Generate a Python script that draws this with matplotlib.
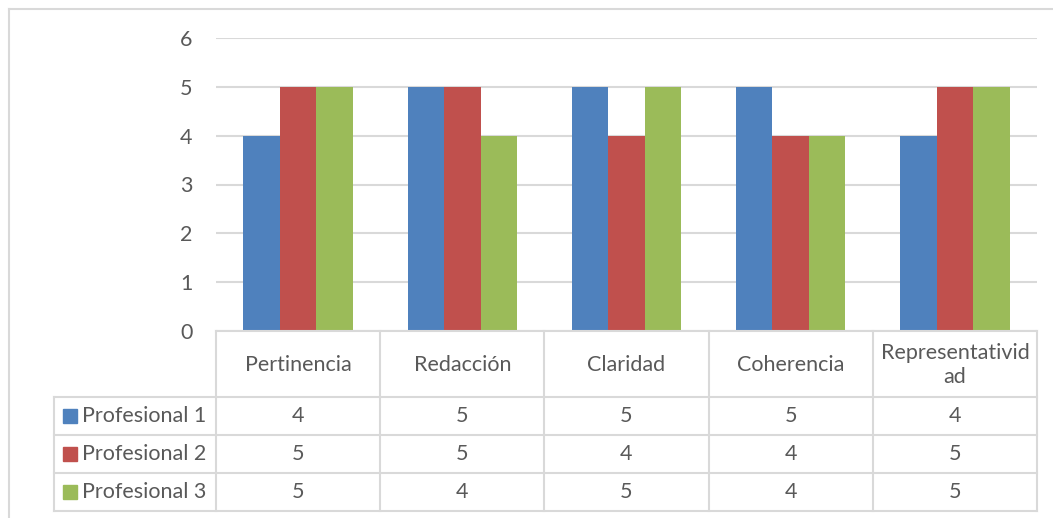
import numpy as np
import matplotlib
matplotlib.use("Agg")
import matplotlib.pyplot as plt
from matplotlib.lines import Line2D
from matplotlib.patches import Rectangle

plt.rcParams['font.family'] = ['Lato', 'DejaVu Sans']

categories = ["Pertinencia", "Redacción", "Claridad", "Coherencia", "Representativid\nad"]
series_names = ["Profesional 1", "Profesional 2", "Profesional 3"]
prof1 = [4, 5, 5, 5, 4]
prof2 = [5, 5, 4, 4, 5]
prof3 = [5, 4, 5, 4, 5]

COLORS = ["#4F81BD", "#C0504D", "#9BBB59"]
GRID = "#D9D9D9"
TEXT = "#595959"
FS = 15.5

W, H = 1053, 518


def fx(x):
    return x / W


def fy(y):
    return 1 - y / H


fig = plt.figure(figsize=(W / 100, H / 100), dpi=100)

# plot area in pixel coords of reference
left, right, top, bottom = 216, 1037, 38, 331
ax = fig.add_axes([fx(left), fy(bottom), (right - left) / W, (bottom - top) / H])

values = [prof1, prof2, prof3]
x = np.arange(len(categories)) + 0.5
width = 0.222
for i, (vals, col) in enumerate(zip(values, COLORS)):
    ax.bar(x + (i - 1) * width, vals, width, color=col, zorder=3)

ax.set_xlim(0, len(categories))
ax.set_ylim(0, 6)
ax.set_yticks(range(0, 7))
ax.yaxis.grid(True, color=GRID, lw=1.5, zorder=0)
ax.set_xticks([])
for s in ax.spines.values():
    s.set_visible(False)
ax.tick_params(axis='y', length=0, pad=17, labelsize=FS, labelcolor=TEXT)

# outer chart border
fig.add_artist(Line2D([fx(9), fx(9)], [fy(9), fy(H)], color=GRID, lw=1.5))
fig.add_artist(Line2D([fx(9), fx(W)], [fy(9), fy(9)], color=GRID, lw=1.5))

# data table
col_edges = np.linspace(left, right, len(categories) + 1)
row_edges = [331, 397, 435, 473, 511]
leg_left = 54

for cx in col_edges:
    fig.add_artist(Line2D([fx(cx), fx(cx)], [fy(331), fy(511)], color=GRID, lw=1.5))
fig.add_artist(Line2D([fx(leg_left), fx(leg_left)], [fy(397), fy(511)], color=GRID, lw=1.5))
fig.add_artist(Line2D([fx(left), fx(right)], [fy(331), fy(331)], color=GRID, lw=1.5))
for ry in row_edges[1:]:
    fig.add_artist(Line2D([fx(leg_left), fx(right)], [fy(ry), fy(ry)], color=GRID, lw=1.5))

for j, cat in enumerate(categories):
    cx = (col_edges[j] + col_edges[j + 1]) / 2
    fig.text(fx(cx), fy(365), cat, ha='center', va='center', fontsize=FS,
             color=TEXT, linespacing=1.3)

for i, (name, vals, col) in enumerate(zip(series_names, values, COLORS)):
    cy = (row_edges[i + 1] + row_edges[i + 2]) / 2
    fig.add_artist(Rectangle((fx(63), fy(cy + 7)), 14 / W, 14 / H, color=col))
    fig.text(fx(82), fy(cy), name, ha='left', va='center', fontsize=FS, color=TEXT)
    for j, v in enumerate(vals):
        cx = (col_edges[j] + col_edges[j + 1]) / 2
        fig.text(fx(cx), fy(cy), str(v), ha='center', va='center', fontsize=FS, color=TEXT)

fig.savefig("out.png", dpi=100)
